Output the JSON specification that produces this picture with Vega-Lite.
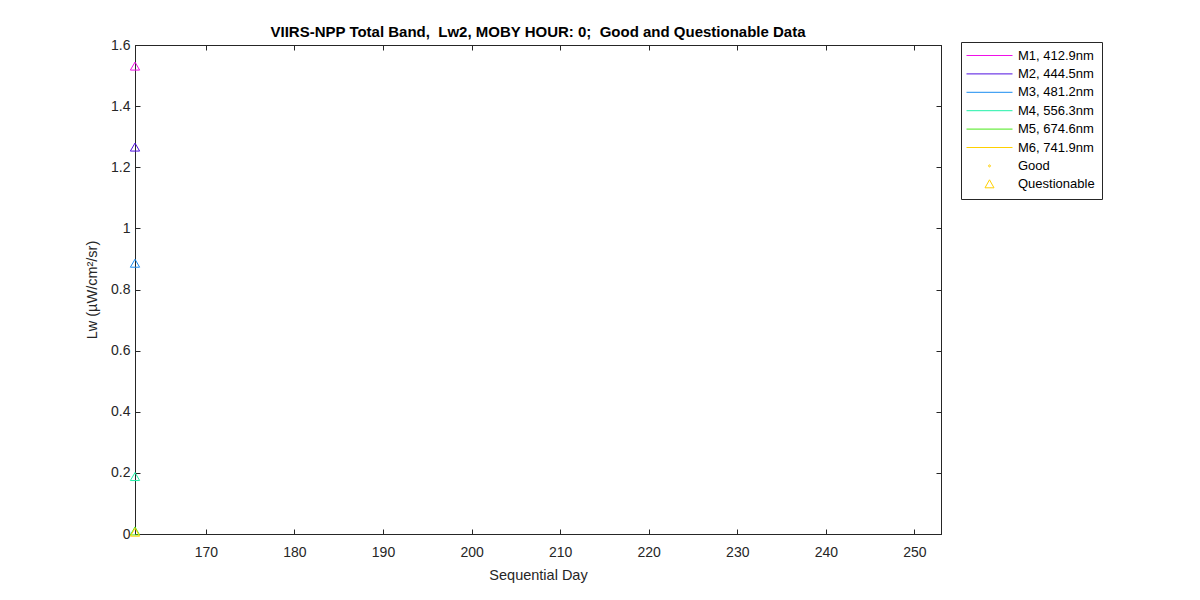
{
  "$schema": "https://vega.github.io/schema/vega-lite/v6.json",
  "autosize": "none",
  "width": 806,
  "height": 489,
  "padding": {"left": 135, "top": 45, "right": 259, "bottom": 66},
  "background": "white",
  "title": {
    "text": "VIIRS-NPP Total Band,\u00a0 Lw2, MOBY HOUR: 0;\u00a0 Good and Questionable Data",
    "font": "Liberation Sans",
    "fontSize": 15,
    "fontWeight": "bold",
    "color": "#000000",
    "offset": -2
  },
  "datasets": {
    "lw2": [
      {"band": "M1, 412.9nm", "day": 162, "lw": 1.531, "flag": "Questionable"},
      {"band": "M2, 444.5nm", "day": 162, "lw": 1.266, "flag": "Questionable"},
      {"band": "M3, 481.2nm", "day": 162, "lw": 0.886, "flag": "Questionable"},
      {"band": "M4, 556.3nm", "day": 162, "lw": 0.188, "flag": "Questionable"},
      {"band": "M5, 674.6nm", "day": 162, "lw": 0.010, "flag": "Questionable"},
      {"band": "M6, 741.9nm", "day": 162, "lw": 0.006, "flag": "Questionable"}
    ],
    "legend_keys": [
      {"band": "M1, 412.9nm", "day": 100, "lw": -1},
      {"band": "M2, 444.5nm", "day": 100, "lw": -1},
      {"band": "M3, 481.2nm", "day": 100, "lw": -1},
      {"band": "M4, 556.3nm", "day": 100, "lw": -1},
      {"band": "M5, 674.6nm", "day": 100, "lw": -1},
      {"band": "M6, 741.9nm", "day": 100, "lw": -1},
      {"band": "Good", "day": 100, "lw": -1},
      {"band": "Questionable", "day": 100, "lw": -1}
    ]
  },
  "layer": [
    {
      "data": {"name": "lw2"},
      "mark": {"type": "point", "shape": "triangle-up", "filled": false, "size": 85, "strokeWidth": 1, "opacity": 1},
      "encoding": {
        "x": {
          "field": "day",
          "type": "quantitative",
          "title": "Sequential Day",
          "scale": {"domain": [162, 253], "nice": false, "zero": false},
          "axis": {"values": [170, 180, 190, 200, 210, 220, 230, 240, 250], "orient": "bottom"}
        },
        "y": {
          "field": "lw",
          "type": "quantitative",
          "title": "Lw (µW/cm²/sr)",
          "scale": {"domain": [0, 1.6], "nice": false},
          "axis": {"values": [0, 0.2, 0.4, 0.6, 0.8, 1, 1.2, 1.4, 1.6], "format": "~g", "orient": "left"}
        },
        "color": {
          "field": "band",
          "type": "nominal",
          "title": null,
          "scale": {
            "domain": ["M1, 412.9nm", "M2, 444.5nm", "M3, 481.2nm", "M4, 556.3nm", "M5, 674.6nm", "M6, 741.9nm", "Good", "Questionable"],
            "range": ["#F010E8", "#5010E0", "#1A8CF0", "#20F0A8", "#48E818", "#FFD000", "#FFD000", "#FFD000"]
          }
        }
      }
    },
    {
      "data": {"name": "legend_keys"},
      "mark": {"type": "point", "filled": false, "size": 4, "strokeWidth": 1, "clip": true},
      "encoding": {
        "x": {
          "field": "day",
          "type": "quantitative",
          "axis": {"values": [170, 180, 190, 200, 210, 220, 230, 240, 250], "orient": "top", "labels": false, "title": null}
        },
        "y": {
          "field": "lw",
          "type": "quantitative",
          "axis": {"values": [0, 0.2, 0.4, 0.6, 0.8, 1, 1.2, 1.4, 1.6], "orient": "right", "labels": false, "title": null}
        },
        "color": {"field": "band", "type": "nominal", "title": null},
        "shape": {
          "field": "band",
          "type": "nominal",
          "title": null,
          "scale": {
            "domain": ["M1, 412.9nm", "M2, 444.5nm", "M3, 481.2nm", "M4, 556.3nm", "M5, 674.6nm", "M6, 741.9nm", "Good", "Questionable"],
            "range": ["M-8,0H38", "M-8,0H38", "M-8,0H38", "M-8,0H38", "M-8,0H38", "M-8,0H38", "M14,0A1,1 0 1,0 16,0A1,1 0 1,0 14,0Z", "M15,-4.5L19.5,3.5L10.5,3.5Z"]
          }
        }
      }
    }
  ],
  "resolve": {"axis": {"x": "independent", "y": "independent"}},
  "config": {
    "view": {"stroke": "#262626", "strokeWidth": 1},
    "axis": {
      "grid": false,
      "domainColor": "#262626",
      "tickColor": "#262626",
      "tickSize": -5,
      "labelFont": "Liberation Sans",
      "labelFontSize": 14,
      "labelColor": "#262626",
      "titleFont": "Liberation Sans",
      "titleFontSize": 14.5,
      "titleFontWeight": "normal",
      "titleColor": "#262626"
    },
    "axisX": {"labelPadding": 16, "titlePadding": 9},
    "axisY": {"labelPadding": 10, "titlePadding": 11},
    "legend": {
      "orient": "none",
      "legendX": 826,
      "legendY": -3,
      "strokeColor": "#262626",
      "fillColor": "white",
      "padding": 7,
      "labelFont": "Liberation Sans",
      "labelFontSize": 13,
      "labelColor": "#000000",
      "labelOffset": 37,
      "rowPadding": 4.4,
      "symbolSize": 4,
      "symbolStrokeWidth": 1
    }
  }
}
